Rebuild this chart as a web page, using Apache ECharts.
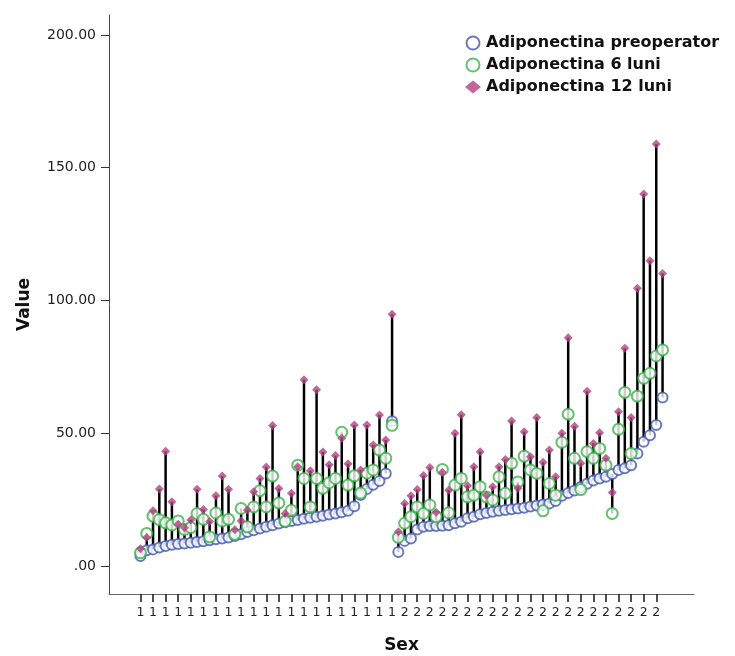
<!DOCTYPE html>
<html>
<head>
<meta charset="utf-8">
<script src="https://cdn.jsdelivr.net/npm/echarts@6/dist/echarts.min.js"></script>
<style>
  html, body { margin: 0; padding: 0; background: #fff; }
  #chart { width: 735px; height: 656px; }
</style>
</head>
<body>
<div id="chart"></div>
<script>
// Adiponectin per patient, sorted by preoperative value within each sex group.
// Sex = 1
const preop1 = [3.8, 6.0, 6.3, 7.0, 7.6, 8.0, 8.3, 8.5, 8.8, 9.1, 9.4, 9.7, 10.1, 10.4, 10.8, 11.3,
  12.0, 12.8, 13.5, 14.2, 14.8, 15.4, 16.0, 16.5, 17.0, 17.4, 17.8, 18.2, 18.6, 19.0, 19.4, 19.8,
  20.3, 20.8, 22.5, 26.8, 29.0, 30.6, 32.0, 34.9, 54.5];
const luni6_1 = [5.0, 12.3, 18.8, 17.5, 16.3, 15.5, 17.0, 13.8, 14.5, 19.8, 17.6, 11.0, 20.0, 17.0, 17.6, 12.0,
  21.7, 14.8, 22.3, 28.4, 22.3, 33.9, 23.8, 16.9, 21.0, 38.0, 33.0, 22.3, 33.0, 29.3, 31.4, 33.0,
  50.4, 30.5, 34.0, 27.5, 35.0, 36.2, 43.7, 40.6, 53.0];
const luni12_1 = [6.5, 10.8, 20.8, 29.0, 43.2, 24.2, 15.8, 14.4, 17.4, 28.9, 21.3, 16.8, 26.5, 33.9, 28.9, 13.7,
  17.1, 21.1, 28.0, 33.0, 37.3, 52.9, 29.2, 19.8, 27.4, 37.4, 70.2, 35.9, 66.4, 43.0, 38.2, 41.6,
  48.1, 38.5, 53.1, 36.2, 53.1, 45.6, 56.9, 47.5, 94.8];

// Sex = 2
const preop2 = [5.3, 9.5, 10.4, 13.8, 14.8, 15.1, 15.1, 15.2, 15.4, 16.1, 16.7, 18.0, 18.6, 19.5, 20.0,
  20.5, 20.8, 21.1, 21.4, 21.7, 22.0, 22.4, 22.8, 23.2, 23.6, 24.5, 26.5, 27.5, 28.5, 29.8,
  31.0, 32.2, 33.0, 33.6, 34.7, 36.2, 36.8, 38.0, 42.4, 46.8, 49.3, 53.1, 63.5];
const luni6_2 = [10.8, 16.1, 18.6, 22.3, 19.8, 23.0, 18.6, 36.4, 20.1, 30.5, 33.0, 26.1, 26.7, 29.9, 26.0,
  24.9, 33.6, 27.4, 38.7, 31.7, 41.4, 36.2, 34.9, 20.8, 31.1, 26.7, 46.6, 57.2, 40.6, 28.8,
  43.1, 40.6, 44.3, 38.0, 19.8, 51.5, 65.4, 42.4, 64.0, 70.7, 72.6, 79.1, 81.4];
const luni12_2 = [12.9, 23.6, 26.5, 28.8, 34.1, 37.1, 20.3, 35.3, 28.6, 50.0, 57.0, 30.3, 37.4, 43.1, 26.7,
  29.9, 37.4, 40.1, 54.6, 29.3, 50.6, 41.2, 56.0, 39.1, 43.7, 33.6, 50.0, 86.0, 52.7, 38.7,
  65.8, 46.2, 50.2, 40.6, 27.7, 58.1, 82.0, 56.0, 104.6, 140.1, 115.0, 158.9, 110.2];

const sexCodes = ['1', '2'];
const seriesNames = ['Adiponectina preoperator', 'Adiponectina 6 luni', 'Adiponectina 12 luni'];
const yTicks = [0, 50, 100, 150, 200];

const preop = preop1.concat(preop2);
const luni6 = luni6_1.concat(luni6_2);
const luni12 = luni12_1.concat(luni12_2);
const sexOf = preop1.map(() => sexCodes[0]).concat(preop2.map(() => sexCodes[1]));
const caseIdx = preop.map((_, i) => i);
const xTicks = caseIdx.filter(i => i % 2 === 0);

const pts = arr => arr.map((v, i) => [i, v]);
const highLow = caseIdx.map(i => {
  const vals = [preop[i], luni6[i], luni12[i]];
  return [i, Math.min.apply(null, vals), Math.max.apply(null, vals)];
});

const FONT = 'DejaVu Sans';
const chart = echarts.init(document.getElementById('chart'), null, { renderer: 'canvas' });

chart.setOption({
  backgroundColor: '#fff',
  animation: false,
  textStyle: { fontFamily: FONT },
  grid: { left: 109, top: 15, width: 585, height: 579, outerBoundsMode: 'none', containLabel: false },
  legend: {
    orient: 'vertical',
    left: 460,
    top: 29,
    itemWidth: 16,
    itemHeight: 13,
    itemGap: 4,
    data: seriesNames,
    textStyle: { fontFamily: FONT, fontWeight: 'bold', fontSize: 16, color: '#111', lineHeight: 18 }
  },
  xAxis: {
    type: 'value',
    min: -5,
    max: 88,
    name: 'Sex',
    nameLocation: 'middle',
    nameGap: 43,
    nameTextStyle: { fontFamily: FONT, fontWeight: 'bold', fontSize: 17, color: '#111' },
    axisLine: { show: true, onZero: false, lineStyle: { color: '#666', width: 1 } },
    axisTick: { show: true, customValues: xTicks, length: 8, lineStyle: { color: '#222', width: 1.6 } },
    axisLabel: {
      customValues: xTicks,
      margin: 12,
      fontSize: 12.5,
      color: '#222',
      fontFamily: FONT,
      formatter: v => sexOf[Math.round(v)] || ''
    },
    splitLine: { show: false }
  },
  yAxis: {
    type: 'value',
    min: -10.5,
    max: 207.5,
    name: 'Value',
    nameLocation: 'middle',
    nameRotate: 90,
    nameGap: 76,
    nameTextStyle: { fontFamily: FONT, fontWeight: 'bold', fontSize: 17, color: '#111' },
    axisLine: { show: true, onZero: false, lineStyle: { color: '#444', width: 1 } },
    axisTick: { show: true, customValues: yTicks, length: 8, lineStyle: { color: '#333', width: 1 } },
    axisLabel: {
      customValues: yTicks,
      margin: 13,
      fontSize: 14,
      color: '#222',
      fontFamily: FONT,
      formatter: v => (v === 0 ? '.00' : v.toFixed(2))
    },
    splitLine: { show: false }
  },
  series: [
    {
      type: 'custom',
      name: 'range',
      z: 1,
      silent: true,
      encode: { x: 0, y: [1, 2] },
      data: highLow,
      renderItem: (params, api) => {
        const x = api.value(0);
        const a = api.coord([x, api.value(1)]);
        const b = api.coord([x, api.value(2)]);
        return {
          type: 'line',
          shape: { x1: a[0], y1: a[1], x2: b[0], y2: b[1] },
          style: { stroke: '#000', lineWidth: 2.5 }
        };
      }
    },
    {
      type: 'scatter',
      name: seriesNames[0],
      z: 2,
      symbol: 'emptyCircle',
      symbolSize: 10,
      itemStyle: { color: '#4257b0', borderColor: '#4257b0', borderWidth: 1.8 },
      data: pts(preop)
    },
    {
      type: 'scatter',
      name: seriesNames[1],
      z: 3,
      symbol: 'emptyCircle',
      symbolSize: 11,
      itemStyle: { color: '#3bb34a', borderColor: '#3bb34a', borderWidth: 2.2 },
      data: pts(luni6)
    },
    {
      type: 'scatter',
      name: seriesNames[2],
      z: 4,
      symbol: 'diamond',
      symbolSize: 9,
      itemStyle: { color: '#b0427f' },
      data: pts(luni12)
    }
  ]
});
</script>
</body>
</html>
